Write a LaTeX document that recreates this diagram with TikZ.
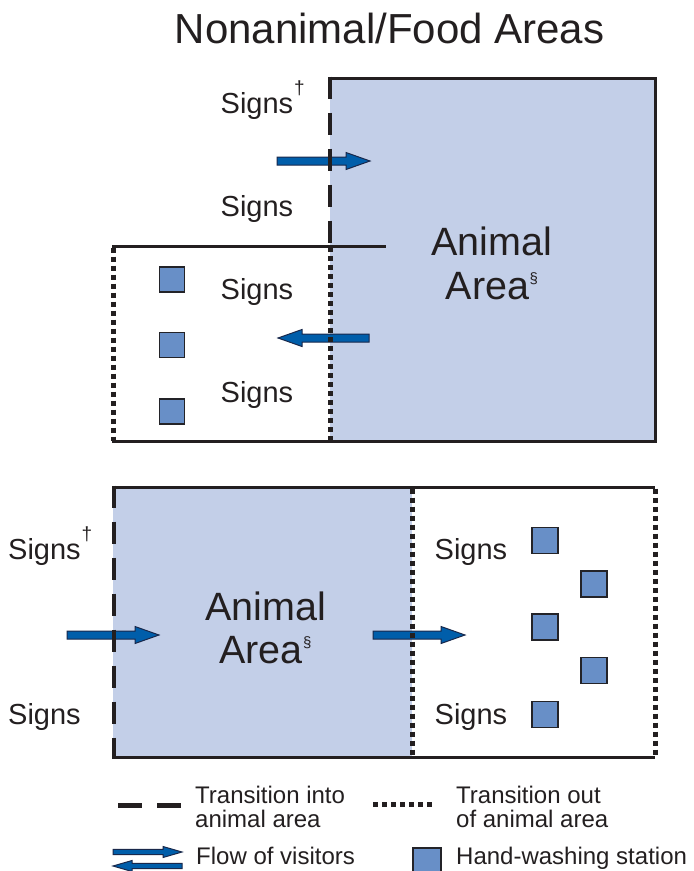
\documentclass[tikz,border=0pt]{standalone}
\usepackage{fontspec}
\setmainfont{Liberation Sans}
\definecolor{areablue}{RGB}{195,207,232}
\definecolor{sqblue}{RGB}{104,143,199}
\definecolor{sqedge}{RGB}{35,35,40}
\definecolor{arrowblue}{RGB}{0,94,170}
\definecolor{arrowedge}{RGB}{25,40,75}
\definecolor{linek}{RGB}{35,31,32}
\definecolor{textk}{RGB}{35,31,32}
\newcommand{\dagsup}{\kern1pt\raisebox{19pt}{\fontsize{19}{19}\selectfont †}}
\newcommand{\secsup}{\kern0.5pt\raisebox{16pt}{\fontsize{15}{15}\selectfont §}}
% x0, xtip, y, signed head length, shaft half-thickness, head half-height
\newcommand{\flowarrow}[6]{\draw[flow] ({#1},{#3-#5}) -- ({#2-(#4)},{#3-#5}) -- ({#2-(#4)},{#3-#6}) -- ({#2},{#3}) -- ({#2-(#4)},{#3+#6}) -- ({#2-(#4)},{#3+#5}) -- ({#1},{#3+#5}) -- cycle;}
\begin{document}
\begin{tikzpicture}[x=1pt,y=-1pt,
  solidline/.style={line width=3pt, draw=linek},
  dashline/.style={line width=4.6pt, draw=linek, dash pattern=on 22pt off 14pt},
  dotline/.style={line width=5pt, draw=linek, dash pattern=on 5pt off 4pt},
  station/.style={draw=sqedge, fill=sqblue, line width=1.3pt, minimum size=25pt, inner sep=0pt},
  flow/.style={fill=arrowblue, draw=arrowedge, line width=1pt, line join=miter},
  lab/.style={anchor=base west, inner sep=0pt, text=textk, font=\fontsize{29}{29}\selectfont},
  area/.style={anchor=base west, inner sep=0pt, text=textk, font=\fontsize{39.5}{39.5}\selectfont},
  leg/.style={anchor=base west, inner sep=0pt, text=textk, font=\fontsize{24}{24}\selectfont},
  titlestyle/.style={anchor=base, inner sep=0pt, text=textk, font=\fontsize{42}{42}\selectfont}
]
\useasboundingbox (0,0) rectangle (694,871);

% title
\node[titlestyle] (title) at (389.5,43) {Nonanimal/Food Areas};

% ---------- upper diagram ----------
\fill[areablue] (330,78) rectangle (655,441);
\coordinate (uTL) at (330,78);
\coordinate (uTR) at (655,78);
\coordinate (uBR) at (655,441);
\coordinate (uBL) at (112,441);
\coordinate (uMid) at (330,247);
\coordinate (wTL) at (112,246);
\coordinate (wTR) at (386,246);
\coordinate (uBM) at (330,441);

\flowarrow{277}{370}{161}{24}{4}{8.5}
\flowarrow{369}{278}{338}{-24}{4}{8.5}

\draw[solidline] (uTL) -- (uTR) -- (uBR) -- (uBL);
\draw[solidline] (wTL) -- (wTR);
\draw[dashline] (330,76.5) -- (uMid);
\draw[dotline] (uMid) -- (uBM);
\draw[dotline] (113,247.5) -- (113,441);

\node[station] (us1) at (172,279.5) {};
\node[station] (us2) at (172,345) {};
\node[station] (us3) at (172,411.5) {};

\node[lab] (usig1) at (220.5,113) {Signs\dagsup};
\node[lab] (usig2) at (220.5,216) {Signs};
\node[lab] (usig3) at (220.5,299) {Signs};
\node[lab] (usig4) at (220.5,402) {Signs};

\node[area] (uanimal) at (431,255) {Animal};
\node[area] (uarea) at (445.5,299) {Area\secsup};

% ---------- lower diagram ----------
\fill[areablue] (113,487) rectangle (412,757);
\coordinate (lTL) at (113,487);
\coordinate (lTR) at (655,487);
\coordinate (lBL) at (113,757);
\coordinate (lBR) at (655,757);

\flowarrow{67}{159}{635}{24}{4}{8.5}
\flowarrow{373}{465}{635}{24}{4}{8.5}

\draw[solidline] (lTL) -- (lTR);
\draw[solidline] (lBL) -- (lBR);
\draw[dashline] (114,485.5) -- (114,758.5);
\draw[dotline] (412,488.5) -- (412,757);
\draw[dotline] (655,488.5) -- (655,757);

\node[station, minimum size=26pt] (ls1) at (545,540.5) {};
\node[station, minimum size=26pt] (ls2) at (594,584) {};
\node[station, minimum size=26pt] (ls3) at (545,627) {};
\node[station, minimum size=26pt] (ls4) at (594,670.5) {};
\node[station, minimum size=26pt] (ls5) at (545,714.5) {};

\node[lab] (lsig1) at (8,559) {Signs\dagsup};
\node[lab] (lsig2) at (8,724) {Signs};
\node[lab] (lsig3) at (434.5,559) {Signs};
\node[lab] (lsig4) at (434.5,724) {Signs};

\node[area] (lanimal) at (205,620) {Animal};
\node[area] (larea) at (219,663) {Area\secsup};

% ---------- legend ----------
\coordinate (ld1) at (118,805.5);
\coordinate (ld2) at (182,805.5);
\draw[line width=5pt, draw=linek, dash pattern=on 24pt off 15pt] (ld1) -- (ld2);
\node[leg] (legin1) at (195,803) {Transition into};
\node[leg] (legin2) at (195,827) {animal area};

\coordinate (lo1) at (373,804.5);
\coordinate (lo2) at (434,804.5);
\draw[line width=5pt, draw=linek, dash pattern=on 5pt off 4pt] (lo1) -- (lo2);
\node[leg] (legout1) at (456,803) {Transition out};
\node[leg] (legout2) at (456,827) {of animal area};

\flowarrow{113}{182}{852}{19}{2.6}{5.5}
\flowarrow{182}{113}{866}{-19}{2.6}{5.5}
\node[leg] (legflow) at (196,864) {Flow of visitors};

\node[station, minimum size=28pt] (legsq) at (427,862) {};
\node[leg] (leghw) at (456,864) {Hand-washing station};
\end{tikzpicture}
\end{document}
